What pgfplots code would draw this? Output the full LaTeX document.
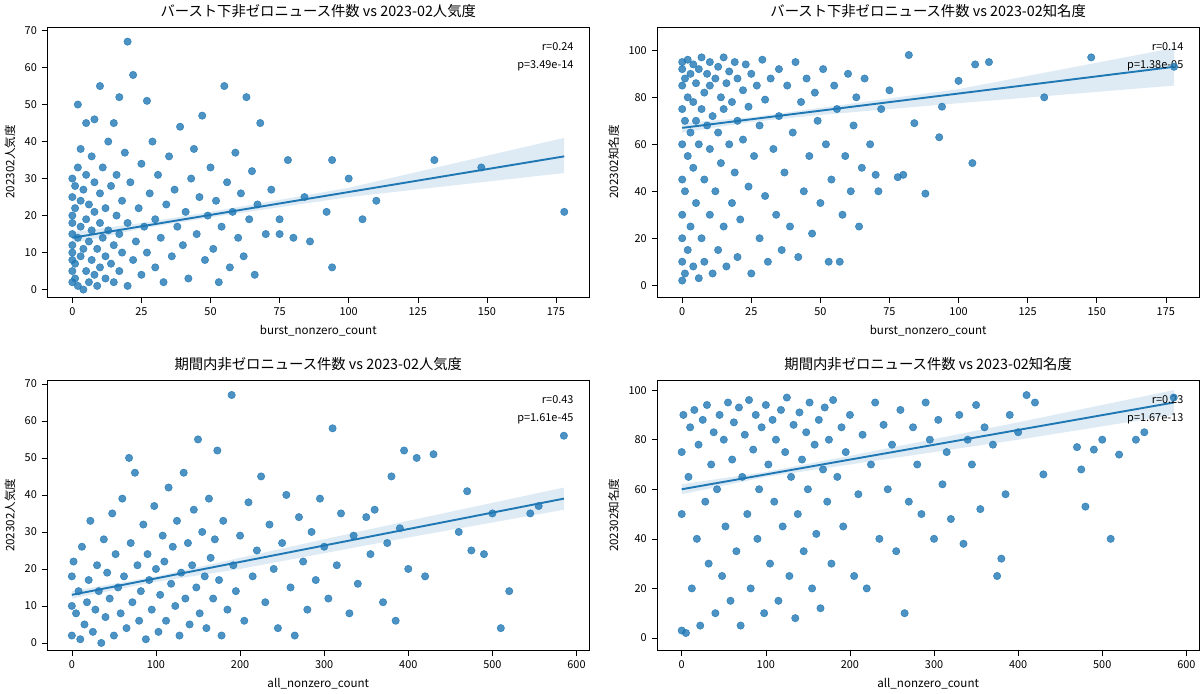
\documentclass[border=0pt]{standalone}
\usepackage{fontspec}
\setmainfont{Noto Sans CJK JP}
\usepackage{pgfplots}
\pgfplotsset{compat=1.18}
\usepgfplotslibrary{groupplots}
\definecolor{sb}{HTML}{1F77B4}
\pgfplotsset{every axis/.append style={scale only axis,width=397pt,height=198pt,
 /pgf/number format/assume math mode=true,
 tick label style={font=\fontsize{8}{9}\selectfont},
 label style={font=\fontsize{8.5}{10}\selectfont},
 title style={font=\fontsize{10.5}{12}\selectfont,yshift=-3pt},
 tick align=outside, tick pos=left, every tick/.style={black,thin}},
 sc/.style={only marks,mark=*,mark size=2.7pt,color=sb,mark options={draw=sb,fill=sb,opacity=0.8}},
 bd/.style={fill=sb,fill opacity=0.15,draw=none},
 rl/.style={sb,line width=1.4pt}}
\begin{document}
\begin{tikzpicture}
\begin{groupplot}[group style={group size=2 by 2,horizontal sep=50pt,vertical sep=61pt}]
\nextgroupplot[title={バースト下非ゼロニュース件数 vs 2023-02人気度},xlabel={burst\_nonzero\_count},ylabel={202302人気度},xmin=-9,xmax=187,ymin=-2,ymax=71,xtick={0,25,...,175},ytick={0,10,...,70}]
\addplot[bd] coordinates {(0,15.5)(25,18)(50,21)(100,27.5)(178,41)(178,31.5)(100,25)(50,19.5)(25,16.5)(0,12.5)} -- cycle;
\addplot[sc] coordinates {(0,2)(0,5)(0,10)(0,15)(0,20)(0,25)(0,30)(0,8)(0,12)(0,18)(1,3)(1,7)(1,22)(1,28)(2,1)(2,14)(2,33)(2,50)(3,9)(3,17)(3,24)(3,38)(4,0)(4,11)(4,27)(5,5)(5,19)(5,31)(5,45)(6,2)(6,13)(6,23)(7,8)(7,16)(7,36)(8,4)(8,21)(8,29)(8,46)(9,11)(9,1)(10,55)(10,6)(10,18)(10,26)(11,14)(11,33)(12,3)(12,9)(12,22)(13,40)(13,16)(14,7)(14,28)(15,12)(15,2)(15,45)(16,20)(16,31)(17,52)(17,5)(17,15)(18,24)(18,10)(19,37)(20,67)(20,1)(20,18)(21,29)(22,58)(22,8)(23,13)(24,22)(25,34)(25,4)(26,17)(27,51)(27,10)(28,26)(29,40)(30,6)(30,19)(31,31)(32,14)(33,2)(34,23)(35,36)(36,9)(37,27)(38,17)(39,44)(40,12)(41,21)(42,3)(43,30)(44,38)(45,15)(46,25)(47,47)(48,8)(49,20)(50,33)(51,11)(52,24)(53,2)(54,17)(55,55)(56,29)(57,6)(58,21)(59,37)(60,14)(61,26)(62,9)(63,52)(64,19)(65,32)(66,4)(67,23)(68,45)(70,15)(72,27)(75,15)(75,19)(78,35)(80,14)(84,25)(86,13)(94,35)(94,6)(92,21)(100,30)(105,19)(110,24)(131,35)(148,33)(178,21)};
\addplot[rl] coordinates {(0,14)(178,36)};
\node[anchor=north east,align=right,font=\fontsize{8}{13}\selectfont] at (rel axis cs:0.98,0.96) {r=0.24\\p=3.49e-14};
\nextgroupplot[title={バースト下非ゼロニュース件数 vs 2023-02知名度},xlabel={burst\_nonzero\_count},ylabel={202302知名度},xmin=-9,xmax=187,ymin=-5,ymax=110,xtick={0,25,...,175},ytick={0,20,...,100}]
\addplot[bd] coordinates {(0,69)(25,71.5)(50,75.5)(100,83.5)(178,101)(178,85)(100,77.5)(50,72.5)(25,69.5)(0,65)} -- cycle;
\addplot[sc] coordinates {(0,2)(0,10)(0,20)(0,30)(0,45)(0,60)(0,75)(0,85)(0,92)(0,95)(1,5)(1,40)(1,70)(1,88)(2,15)(2,55)(2,80)(2,96)(3,25)(3,65)(3,90)(4,8)(4,50)(4,78)(4,94)(5,35)(5,70)(5,86)(6,3)(6,60)(6,92)(7,20)(7,75)(7,97)(8,45)(8,82)(8,10)(9,68)(9,90)(10,30)(10,58)(10,85)(10,95)(11,5)(11,72)(12,40)(12,88)(13,15)(13,65)(13,93)(14,52)(14,80)(15,25)(15,75)(15,97)(16,8)(16,86)(17,60)(17,91)(18,35)(18,78)(19,48)(19,95)(20,12)(20,70)(20,88)(21,28)(22,83)(22,62)(23,94)(24,42)(24,76)(25,5)(25,90)(26,55)(27,85)(28,20)(28,68)(29,96)(30,38)(30,79)(31,10)(32,88)(33,58)(34,30)(35,92)(35,72)(36,15)(37,48)(38,85)(39,25)(40,65)(41,95)(42,12)(43,78)(44,40)(45,88)(46,55)(47,22)(48,82)(49,70)(50,35)(51,92)(52,60)(53,10)(54,45)(55,85)(56,75)(57,10)(58,30)(59,55)(60,90)(61,40)(62,68)(63,80)(64,25)(65,50)(66,88)(68,60)(70,47)(71,40)(72,75)(75,83)(78,46)(80,47)(82,98)(84,69)(88,39)(93,63)(94,76)(100,87)(105,52)(106,94)(111,95)(131,80)(148,97)(178,93)};
\addplot[rl] coordinates {(0,67)(178,93)};
\node[anchor=north east,align=right,font=\fontsize{8}{13}\selectfont] at (rel axis cs:0.98,0.96) {r=0.14\\p=1.38e-05};
\nextgroupplot[title={期間内非ゼロニュース件数 vs 2023-02人気度},xlabel={all\_nonzero\_count},ylabel={202302人気度},xmin=-29,xmax=615,ymin=-2,ymax=71,xtick={0,100,...,600},ytick={0,10,...,70}]
\addplot[bd] coordinates {(0,14)(100,18)(200,23)(400,33)(585,42)(585,36)(400,28.5)(200,20)(100,16.5)(0,12)} -- cycle;
\addplot[sc] coordinates {(0,2)(0,10)(0,18)(2,22)(5,8)(8,14)(10,1)(12,26)(15,5)(18,11)(20,17)(22,33)(25,3)(28,9)(30,21)(32,14)(35,0)(38,28)(40,7)(42,19)(45,12)(48,35)(50,2)(52,24)(55,15)(58,8)(60,39)(62,18)(65,4)(68,50)(70,27)(72,11)(75,46)(78,21)(80,6)(82,14)(85,32)(88,1)(90,24)(92,17)(95,9)(98,37)(100,20)(103,3)(105,13)(108,29)(110,22)(112,6)(115,42)(118,16)(120,26)(123,10)(125,33)(128,2)(130,19)(133,46)(135,12)(138,27)(140,5)(143,21)(145,36)(148,15)(150,55)(152,8)(155,30)(158,18)(160,4)(163,39)(165,23)(168,12)(170,28)(173,52)(175,17)(178,2)(180,33)(185,9)(190,67)(192,21)(195,14)(200,29)(205,6)(210,38)(215,18)(220,25)(225,45)(230,11)(235,32)(240,20)(245,4)(250,27)(255,40)(260,15)(265,2)(270,34)(275,22)(280,9)(285,30)(290,17)(295,39)(300,26)(305,12)(310,58)(315,21)(320,35)(330,8)(335,29)(340,16)(350,34)(355,24)(360,36)(370,11)(375,27)(380,45)(385,6)(390,31)(395,52)(400,20)(410,50)(420,18)(430,51)(460,30)(470,41)(475,25)(490,24)(500,35)(510,4)(520,14)(545,35)(555,37)(585,56)};
\addplot[rl] coordinates {(0,13)(585,39)};
\node[anchor=north east,align=right,font=\fontsize{8}{13}\selectfont] at (rel axis cs:0.98,0.96) {r=0.43\\p=1.61e-45};
\nextgroupplot[title={期間内非ゼロニュース件数 vs 2023-02知名度},xlabel={all\_nonzero\_count},ylabel={202302知名度},xmin=-29,xmax=615,ymin=-5,ymax=104,xtick={0,100,...,600},ytick={0,20,...,100}]
\addplot[bd] coordinates {(0,62)(100,67)(200,73.5)(400,87)(585,100)(585,90)(400,80)(200,70)(100,65)(0,58)} -- cycle;
\addplot[sc] coordinates {(0,3)(0,50)(0,75)(2,90)(5,2)(8,65)(10,85)(12,20)(15,92)(18,40)(20,78)(22,5)(25,88)(28,55)(30,94)(32,30)(35,70)(38,83)(40,10)(42,60)(45,90)(48,25)(50,80)(52,45)(55,95)(58,15)(60,72)(62,87)(65,35)(68,93)(70,5)(72,65)(75,82)(78,50)(80,96)(82,20)(85,76)(88,90)(90,40)(92,60)(95,85)(98,10)(100,94)(103,70)(105,30)(108,88)(110,55)(112,80)(115,15)(118,92)(120,45)(123,75)(125,97)(128,25)(130,65)(133,86)(135,8)(138,50)(140,91)(143,72)(145,35)(148,83)(150,60)(152,95)(155,20)(158,78)(160,42)(163,88)(165,12)(168,68)(170,93)(173,55)(175,80)(178,30)(180,96)(185,65)(190,85)(192,45)(195,75)(200,90)(205,25)(210,58)(215,82)(220,20)(225,70)(230,95)(235,40)(240,86)(245,60)(250,78)(255,35)(260,92)(265,10)(270,55)(275,85)(280,70)(285,50)(290,95)(295,80)(300,40)(305,88)(310,62)(315,75)(320,48)(330,90)(335,38)(340,80)(345,70)(350,94)(355,52)(360,85)(370,78)(375,25)(380,32)(385,58)(390,90)(400,83)(410,98)(420,95)(430,66)(470,77)(475,68)(480,53)(490,76)(500,80)(510,40)(520,74)(540,80)(550,83)(585,97)};
\addplot[rl] coordinates {(0,60)(585,95)};
\node[anchor=north east,align=right,font=\fontsize{8}{13}\selectfont] at (rel axis cs:0.98,0.96) {r=0.23\\p=1.67e-13};
\end{groupplot}
\end{tikzpicture}
\end{document}
